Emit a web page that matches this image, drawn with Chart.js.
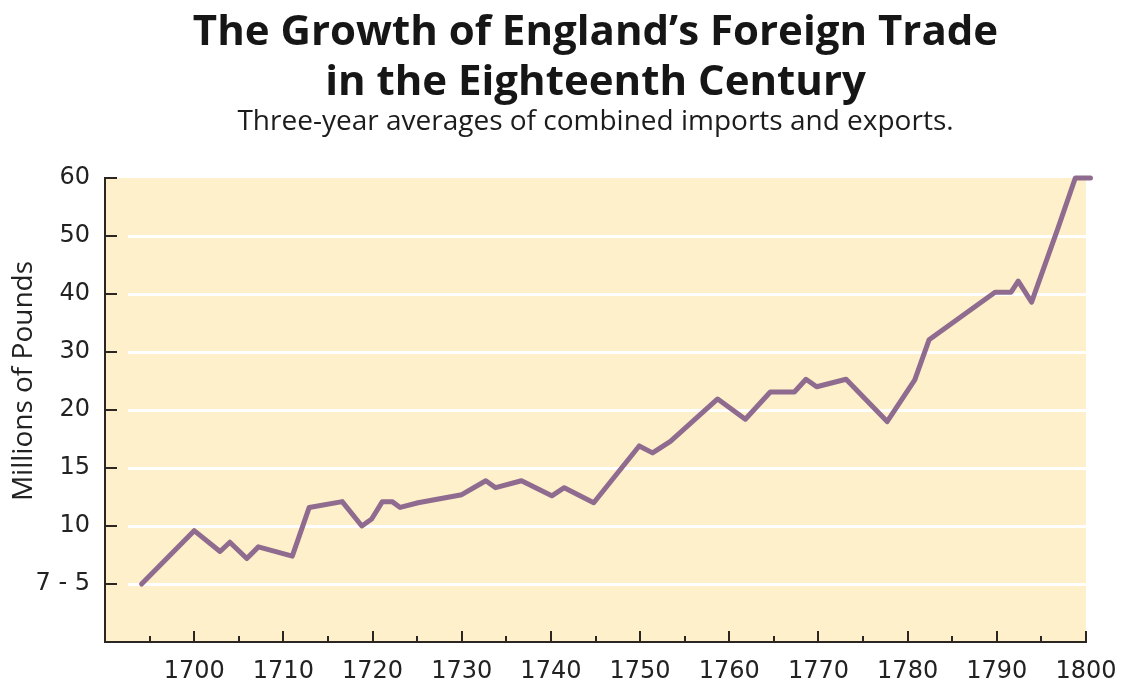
<!DOCTYPE html>
<html>
<head>
<meta charset="utf-8">
<title>The Growth of England's Foreign Trade</title>
<script src="https://cdn.jsdelivr.net/npm/chart.js@4.4.1/dist/chart.umd.min.js"></script>
<style>
  html, body { margin: 0; padding: 0; background: #fff; }
  #wrap { width: 1122px; height: 683px; }
</style>
</head>
<body>
<div id="wrap"><canvas id="tradeChart" width="1122" height="683"></canvas></div>
<script>
// ================= DATA =================
const years = [
  1694.1, 1700, 1702.9, 1704, 1705.9, 1707.2, 1711, 1712.9, 1716.6, 1718.8,
  1719.9, 1721.1, 1722.2, 1723.1, 1725.1, 1730, 1732.7, 1733.8, 1736.7, 1740.1,
  1741.5, 1744.8, 1749.9, 1751.4, 1753.4, 1758.7, 1761.8, 1764.6, 1767.3, 1768.6,
  1769.8, 1773.1, 1777.7, 1780.8, 1782.4, 1789.8, 1791.6, 1792.4, 1793.9, 1796.8,
  1798.8, 1800.5
];
const tradeMillions = [
  7.5, 9.8, 8.9, 9.3, 8.6, 9.1, 8.7, 11.6, 12.1, 10.0,
  10.6, 12.1, 12.1, 11.6, 12.0, 12.7, 13.9, 13.3, 13.9, 12.6,
  13.3, 12.0, 16.9, 16.3, 17.3, 21.9, 19.2, 23.1, 23.1, 25.3,
  24.0, 25.3, 19.0, 25.2, 32.1, 40.3, 40.3, 42.2, 38.6, 51.1,
  60, 60
];
// the value axis is not linear: every tick is the same distance apart
const yTickValues = [7.5, 10, 15, 20, 30, 40, 50, 60];
const yTickLabels = ["7 - 5", "10", "15", "20", "30", "40", "50", "60"];
const xTickYears = [1700, 1710, 1720, 1730, 1740, 1750, 1760, 1770, 1780, 1790, 1800];

// millions -> position on the evenly spaced tick axis
function toAxis(v) {
  for (let i = 0; i < yTickValues.length - 1; i++) {
    const a = yTickValues[i], b = yTickValues[i + 1];
    if (v <= b || i === yTickValues.length - 2) {
      return i + (v - a) / (b - a);
    }
  }
}

const points = years.map((y, i) => ({ x: y, y: toAxis(tradeMillions[i]) }));

// ================= PLOT DECORATION =================
const plotDeco = {
  id: "plotDeco",
  beforeDraw(chart) {
    const { ctx, chartArea: a } = chart;
    ctx.save();
    ctx.fillStyle = "#fdf0cb";
    ctx.fillRect(a.left, a.top, a.right - a.left, a.bottom - a.top);
    ctx.restore();
  },
  beforeDatasetsDraw(chart) {
    const { ctx, chartArea: a, scales } = chart;
    const xs = scales.x, ys = scales.y;
    ctx.save();

    // white grid lines, starting a little right of the axis
    ctx.strokeStyle = "#ffffff";
    ctx.lineWidth = 3;
    for (let i = 0; i < yTickLabels.length - 1; i++) {
      const py = Math.round(ys.getPixelForValue(i)) + 0.5;
      ctx.beginPath();
      ctx.moveTo(a.left + 23, py);
      ctx.lineTo(a.right, py);
      ctx.stroke();
    }

    // inward tick marks
    ctx.strokeStyle = "#2b2622";
    ctx.lineWidth = 2;
    for (let i = 0; i < yTickLabels.length; i++) {
      const py = Math.round(ys.getPixelForValue(i));
      ctx.beginPath();
      ctx.moveTo(a.left, py);
      ctx.lineTo(a.left + 12, py);
      ctx.stroke();
    }
    for (let yr = 1695; yr <= 1800; yr += 5) {
      const px = Math.round(xs.getPixelForValue(yr));
      const len = yr % 10 === 0 ? 11 : 6;
      ctx.beginPath();
      ctx.moveTo(px, a.bottom);
      ctx.lineTo(px, a.bottom - len);
      ctx.stroke();
    }

    // rotated axis title
    ctx.fillStyle = "#222";
    ctx.font = "28px 'Open Sans', sans-serif";
    ctx.textAlign = "center";
    ctx.textBaseline = "middle";
    ctx.translate(24, 381);
    ctx.rotate(-Math.PI / 2);
    ctx.fillText("Millions of Pounds", 0, 0);
    ctx.restore();
  }
};

// ================= CHART =================
new Chart(document.getElementById("tradeChart"), {
  type: "line",
  data: {
    datasets: [{
      label: "Combined imports and exports",
      data: points,
      borderColor: "#8f6b8f",
      borderWidth: 5,
      borderJoinStyle: "round",
      borderCapStyle: "round",
      pointRadius: 0,
      tension: 0,
      clip: false
    }]
  },
  options: {
    responsive: false,
    animation: false,
    layout: { padding: { left: 0, right: 36, top: 0, bottom: 0 } },
    plugins: {
      legend: { display: false },
      tooltip: { enabled: false },
      title: {
        display: true,
        fullSize: false,
        text: ["The Growth of England’s Foreign Trade", "in the Eighteenth Century"],
        color: "#161616",
        font: { family: "'Open Sans', sans-serif", size: 42, weight: "bold", lineHeight: 1.19 },
        padding: { top: 8, bottom: 0 }
      },
      subtitle: {
        display: true,
        fullSize: false,
        text: "Three-year averages of combined imports and exports.",
        color: "#1c1c1c",
        font: { family: "'Open Sans', sans-serif", size: 28, lineHeight: 1.0 },
        padding: { top: 0, bottom: 42 }
      }
    },
    scales: {
      x: {
        type: "linear",
        min: 1690,
        max: 1800,
        afterFit: s => { s.height = 41; s.paddingLeft = 0; s.paddingRight = 0; },
        afterBuildTicks: s => { s.ticks = xTickYears.map(v => ({ value: v })); },
        grid: { display: false, drawTicks: false },
        border: { display: true, color: "#2b2622", width: 2 },
        ticks: {
          color: "#222",
          font: { family: "'DejaVu Sans', sans-serif", size: 24 },
          padding: 15,
          maxRotation: 0,
          callback: v => String(v)
        }
      },
      y: {
        type: "linear",
        min: -1,
        max: yTickLabels.length - 1,
        afterFit: s => { s.width = 105; s.paddingTop = 0; s.paddingBottom = 0; },
        afterBuildTicks: s => { s.ticks = yTickLabels.map((_, i) => ({ value: i })); },
        grid: { display: false, drawTicks: false },
        border: { display: true, color: "#2b2622", width: 2 },
        ticks: {
          color: "#222",
          font: { family: "'DejaVu Sans', sans-serif", size: 24 },
          padding: 15,
          callback: v => yTickLabels[v] ?? ""
        }
      }
    }
  },
  plugins: [plotDeco]
});
</script>
</body>
</html>
